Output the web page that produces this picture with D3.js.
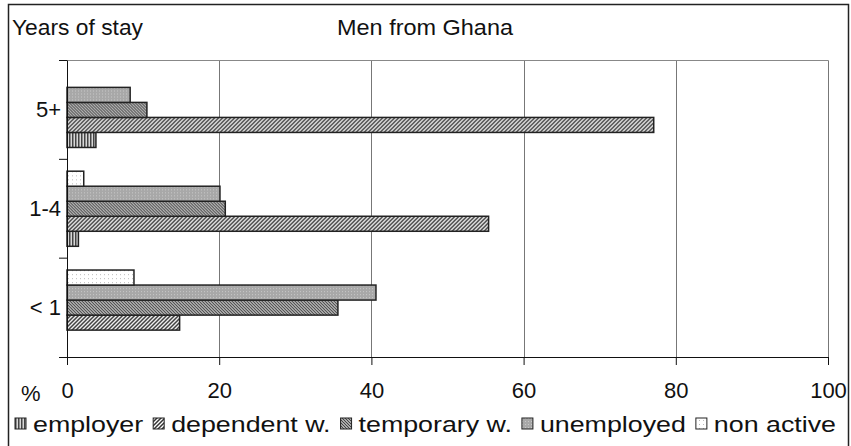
<!DOCTYPE html>
<html>
<head>
<meta charset="utf-8">
<script src="https://cdn.jsdelivr.net/npm/d3@7"></script>
<style>
body { margin: 0; background: #fff; }
text { font-family: "Liberation Sans", Arial, sans-serif; fill: #111; }
</style>
</head>
<body>
<svg id="chart"></svg>
<script>
// values, in % (order: < 1, 1-4, 5+)
var categories = ["< 1", "1-4", "5+"];
var seriesNames = ["employer", "dependent w.", "temporary w.", "unemployed", "non active"];
var employer   = [0, 1.5, 3.8];
var dependent  = [14.8, 55.4, 77.1];
var temporary  = [35.6, 20.8, 10.5];
var unemployed = [40.6, 20.1, 8.3];
var nonActive  = [8.8, 2.2, 0];
var xTicks = [0, 20, 40, 60, 80, 100];

var series = [employer, dependent, temporary, unemployed, nonActive];

var screen = {width: 851, height: 446};
var plot = {left: 67, right: 828, top: 60.5, bottom: 357};
var fontSize = "22px";

var svg = d3.select("#chart")
    .attr("width", screen.width)
    .attr("height", screen.height);

// hatch patterns, one per series
var defs = svg.append("defs");
var makePattern = function(id, w, h, bg, draw)
{
    var p = defs.append("pattern")
        .attr("id", id)
        .attr("patternUnits", "userSpaceOnUse")
        .attr("width", w)
        .attr("height", h);
    p.append("rect").attr("width", w).attr("height", h).attr("fill", bg);
    draw(p);
}
makePattern("p0", 3, 3, "#d8d8d8", function(p) {
    p.append("rect").attr("width", 1.5).attr("height", 3).attr("fill", "#444");
});
makePattern("p1", 4, 4, "#ffffff", function(p) {
    p.append("path").attr("d", "M0,4 L4,0 M-1,1 L1,-1 M3,5 L5,3")
        .attr("stroke", "#333").attr("stroke-width", 1.5);
});
makePattern("p2", 3, 3, "#ffffff", function(p) {
    p.append("path").attr("d", "M0,0 L3,3 M-1,2 L1,4 M2,-1 L4,1")
        .attr("stroke", "#444").attr("stroke-width", 1.3);
});
makePattern("p3", 3, 3, "#a8a8a8", function(p) {
    p.append("rect").attr("width", 1).attr("height", 1).attr("fill", "#c8c8c8");
});
makePattern("p4", 4, 4, "#ffffff", function(p) {
    p.append("rect").attr("width", 1).attr("height", 1).attr("fill", "#bbb");
});
var fills = ["url(#p0)", "url(#p1)", "url(#p2)", "url(#p3)", "url(#p4)"];

// outer frame
svg.append("rect")
    .attr("x", 8.5).attr("y", 4.5)
    .attr("width", 840).attr("height", 443)
    .attr("fill", "none").attr("stroke", "#222").attr("stroke-width", 1.5);

var xScale = d3.scaleLinear()
    .domain([0, 100])
    .range([plot.left, plot.right]);

var yScale = d3.scaleBand()
    .domain(categories.slice().reverse())
    .range([plot.top, plot.bottom]);

var yInner = d3.scaleBand()
    .domain(seriesNames.slice().reverse())
    .range([0, yScale.bandwidth()])
    .paddingInner(0)
    .paddingOuter(0.79);

// grid lines and plot edges
svg.append("g")
    .selectAll("line")
    .data(xTicks.slice(1))
    .enter()
    .append("line")
    .attr("x1", function(d) { return Math.round(xScale(d)) + 0.5; })
    .attr("x2", function(d) { return Math.round(xScale(d)) + 0.5; })
    .attr("y1", plot.top)
    .attr("y2", plot.bottom)
    .attr("stroke", "#777")
    .attr("stroke-width", 1);
svg.append("line")
    .attr("x1", plot.left).attr("x2", plot.right + 0.5)
    .attr("y1", plot.top).attr("y2", plot.top)
    .attr("stroke", "#888").attr("stroke-width", 1);

// bars
categories.forEach(function(cat, ci)
{
    var g = svg.append("g")
        .attr("transform", "translate(0," + yScale(cat) + ")");
    g.selectAll("rect")
        .data(seriesNames.map(function(s, si) { return {s: s, v: series[si][ci], i: si}; })
              .filter(function(d) { return d.v > 0; }))
        .enter()
        .append("rect")
        .attr("x", xScale(0))
        .attr("y", function(d) { return yInner(d.s); })
        .attr("width", function(d) { return xScale(d.v) - xScale(0); })
        .attr("height", yInner.bandwidth())
        .attr("fill", function(d) { return fills[d.i]; })
        .attr("stroke", "#222")
        .attr("stroke-width", 1.5);
});

// axes
var xAxis = d3.axisBottom(xScale)
    .tickValues(xTicks)
    .tickSize(8)
    .tickPadding(17)
    .tickFormat(d3.format("d"));
var gx = svg.append("g")
    .attr("transform", "translate(0," + plot.bottom + ")")
    .call(xAxis);
gx.select(".domain").attr("d", "M59,0.5H" + plot.right).attr("stroke", "#111");
gx.selectAll(".tick line").attr("stroke", "#111");
gx.selectAll(".tick text")
    .style("font-size", fontSize)
    .attr("fill", "#111");

var yAxis = d3.axisLeft(yScale)
    .tickSize(0)
    .tickPadding(6);
var gy = svg.append("g")
    .attr("transform", "translate(" + plot.left + ",0)")
    .call(yAxis);
gy.select(".domain").attr("d", "M0.5," + plot.top + "V" + plot.bottom).attr("stroke", "#111");
gy.selectAll(".tick text")
    .style("font-size", fontSize)
    .attr("fill", "#111");
// boundary ticks between categories
svg.append("g")
    .selectAll("line")
    .data(yScale.domain())
    .enter()
    .append("line")
    .attr("x1", plot.left - 8).attr("x2", plot.left)
    .attr("y1", function(d) { return yScale(d); })
    .attr("y2", function(d) { return yScale(d); })
    .attr("stroke", "#111");

// labels (the reference text is a little wider than the font)
var labels = svg.append("g").style("font-size", fontSize);
labels.append("text").text("Years of stay").attr("x", 12).attr("y", 35)
    .attr("textLength", 131).attr("lengthAdjust", "spacingAndGlyphs");
labels.append("text").text("Men from Ghana").attr("x", 337).attr("y", 35)
    .attr("textLength", 176).attr("lengthAdjust", "spacingAndGlyphs");
labels.append("text").text("%").attr("x", 21).attr("y", 401);

// legend, text stretched so the row ends where the reference's does
var legend = svg.append("g")
    .style("font-size", fontSize);
var items = [];
var textSum = 0;
var gap = 10;
seriesNames.forEach(function(name, i)
{
    var box = legend.append("rect")
        .attr("y", -6)
        .attr("width", 11).attr("height", 11)
        .attr("fill", fills[i])
        .attr("stroke", "#222");
    var t = legend.append("text")
        .text(name)
        .attr("y", 8);
    var w = t.node().getComputedTextLength();
    items.push({box: box, t: t, w: w});
    textSum += w;
});
var stretch = (821 - seriesNames.length * 18 - (seriesNames.length - 1) * gap) / textSum;
var cx = 0;
items.forEach(function(it)
{
    var w = it.w * stretch;
    it.box.attr("x", cx);
    it.t.attr("x", cx + 18)
        .attr("textLength", w)
        .attr("lengthAdjust", "spacingAndGlyphs");
    cx += 18 + w + gap;
});
legend.attr("transform", "translate(15,424)");
</script>
</body>
</html>
